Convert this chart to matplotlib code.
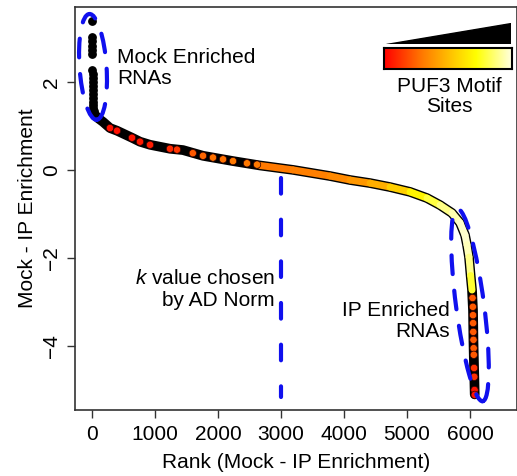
import numpy as np
import matplotlib
matplotlib.use("Agg")
from matplotlib import pyplot as plt
from matplotlib.colors import LinearSegmentedColormap
from matplotlib.collections import LineCollection
from matplotlib.patches import Ellipse
from matplotlib.transforms import ScaledTranslation

plt.rcParams["font.family"] = ["Liberation Sans", "DejaVu Sans"]
plt.rcParams["mathtext.fontset"] = "custom"
plt.rcParams["mathtext.rm"] = "Liberation Sans"
plt.rcParams["mathtext.it"] = "Liberation Sans:italic"

# top (mock enriched) genes, drawn as black dots
mock_rank = [1, 2, 3, 4, 5, 6, 7, 8, 9, 10, 11, 12, 13, 14, 15, 17, 20, 25, 32]
mock_enrich = [3.38, 3.02, 2.93, 2.82, 2.72, 2.63, 2.27, 2.18, 2.09, 2.00,
               1.91, 1.82, 1.73, 1.64, 1.55, 1.48, 1.40, 1.33, 1.27]

# sorted enrichment curve
curve_rank = [45, 100, 175, 286, 397, 635, 762, 921, 1238, 1444, 1762, 2238,
              2667, 3190, 3778, 4095, 4413, 4730, 5048, 5317, 5524, 5714,
              5841, 5921, 5952, 5984, 6010, 6032, 6048, 6055, 6063, 6075]
curve_enrich = [1.25, 1.17, 1.09, 0.95, 0.89, 0.73, 0.64, 0.57, 0.48, 0.45,
                0.32, 0.20, 0.10, 0.0, -0.14, -0.23, -0.30, -0.39, -0.50,
                -0.64, -0.80, -0.98, -1.20, -1.48, -1.70, -1.98, -2.40, -2.73,
                -3.20, -3.90, -4.40, -5.10]
# motif level along the curve (nan = black genes)
curve_level = [np.nan] * 12 + [0.30, 0.30, 0.33, 0.36, 0.42, 0.50, 0.62, 0.75,
                               0.85, 0.92, 0.96, 0.98, 0.97, 0.93, 0.85, 0.72,
                               np.nan, np.nan, np.nan, np.nan]

# individual coloured genes
dot_rank = [286, 397, 635, 762, 921, 1238, 1349, 1600, 1762, 1920, 2080, 2238,
            2460, 2620,
            6040, 6045, 6048, 6050, 6052, 6055, 6058, 6060, 6065, 6068, 6072, 6075]
dot_enrich = [0.95, 0.89, 0.73, 0.64, 0.57, 0.48, 0.46, 0.38, 0.32, 0.28, 0.24,
              0.20, 0.15, 0.12,
              -2.91, -3.11, -3.30, -3.48, -3.68, -3.86, -4.05, -4.20, -4.50,
              -4.70, -5.00, -5.11]
dot_level = [0.04, 0.04, 0.05, 0.06, 0.07, 0.10, 0.13, 0.22, 0.25, 0.28, 0.28,
             0.30, 0.30, 0.30,
             0.22, 0.22, 0.22, 0.22, 0.22, 0.22, 0.22, 0.22, 0.12, 0.12, 0.05, 0.05]

x_ticks = [0, 1000, 2000, 3000, 4000, 5000, 6000]
y_ticks = [-4, -2, 0, 2]
k_rank = 3000

cmap = LinearSegmentedColormap.from_list(
    "puf3", [(0, "#ff0000"), (0.3, "#ff7a00"), (0.55, "#ffcc00"),
             (0.72, "#ffff00"), (1.0, "#ffffe0")])

fig = plt.figure(figsize=(5.17, 4.76), dpi=100)
ax = fig.add_axes([75 / 517, 66 / 476, 442 / 517, 403 / 476])

ax.plot(curve_rank, curve_enrich, color="black", lw=7, solid_capstyle="round",
        solid_joinstyle="round", zorder=2)

pts = np.column_stack([curve_rank, curve_enrich])
lev = np.array(curve_level)
segs, cols = [], []
for i in range(len(pts) - 1):
    if np.isnan(lev[i]) or np.isnan(lev[i + 1]):
        continue
    segs.append(pts[i:i + 2])
    cols.append(cmap((lev[i] + lev[i + 1]) / 2))
ax.add_collection(LineCollection(segs, colors=cols, linewidths=5,
                                 capstyle="round", joinstyle="round", zorder=3))

ax.scatter(mock_rank, mock_enrich, s=28, color="black", zorder=4)
ax.scatter(dot_rank, dot_enrich, s=28, c=[cmap(v) for v in dot_level],
           edgecolors="#300000", linewidths=0.5, zorder=4)

# blue dashed highlights
ax.plot([k_rank, k_rank], [-0.18, -5.16], color="#1010ee", lw=3,
        linestyle=(0, (3.75, 6.25)), dash_capstyle="round", zorder=5)


def px_ellipse(xc, yc, w, h, ang):
    tr = fig.dpi_scale_trans + ScaledTranslation(xc, yc, ax.transData)
    e = Ellipse((0, 0), w / 100, h / 100, angle=ang, transform=tr, fill=False,
                edgecolor="#1010ee", lw=3, linestyle=(0, (4.5, 4)),
                capstyle="round", zorder=5)
    ax.add_patch(e)


px_ellipse(16, 2.34, 27, 106, 4)
px_ellipse(6000, -3.07, 28, 194, 7.5)

ax.text(397, 2.31, "Mock Enriched\nRNAs", fontsize=15, va="center", ha="left",
        linespacing=1.15)
ax.text(2905, -2.72, "$k$ value chosen\nby AD Norm", fontsize=15, va="center",
        ha="right", multialignment="right", linespacing=1.15)
ax.text(5683, -3.43, "IP Enriched\nRNAs", fontsize=15, va="center", ha="right",
        multialignment="right", linespacing=1.15)

ax.set_xlim(-270, 6746)
ax.set_ylim(-5.4545, 3.70)
ax.set_xticks(x_ticks)
ax.set_yticks(y_ticks)
ax.set_yticklabels([str(t).replace("-", "\u2212") for t in y_ticks],
                   rotation=90, va="center")
ax.tick_params(labelsize=15, length=6, width=1, pad=5, color="#333333")
ax.tick_params(axis="y", pad=4)
for sp in ax.spines.values():
    sp.set_linewidth(1.2)
    sp.set_color("#333333")
ax.set_xlabel("Rank (Mock - IP Enrichment)", fontsize=15, labelpad=6)
ax.set_ylabel("Mock - IP Enrichment", fontsize=15, labelpad=4)

# PUF3 motif legend: wedge + gradient bar
ax_tri = fig.add_axes([386 / 517, 1 - 44 / 476, 125 / 517, 21 / 476])
ax_tri.fill([0, 1, 1], [0, 0, 1], color="black")
ax_tri.set_xlim(0, 1)
ax_tri.set_ylim(0, 1)
ax_tri.axis("off")

ax_bar = fig.add_axes([384 / 517, 1 - 69 / 476, 128 / 517, 21 / 476])
ax_bar.imshow(np.linspace(0, 1, 256)[None, :], cmap=cmap, aspect="auto")
ax_bar.set_xticks([])
ax_bar.set_yticks([])
for sp in ax_bar.spines.values():
    sp.set_linewidth(1.5)

fig.text(449 / 517, 1 - 96.5 / 476, "PUF3 Motif\nSites", fontsize=15,
         ha="center", va="center", linespacing=1.05)

fig.savefig("out.png", dpi=100)
